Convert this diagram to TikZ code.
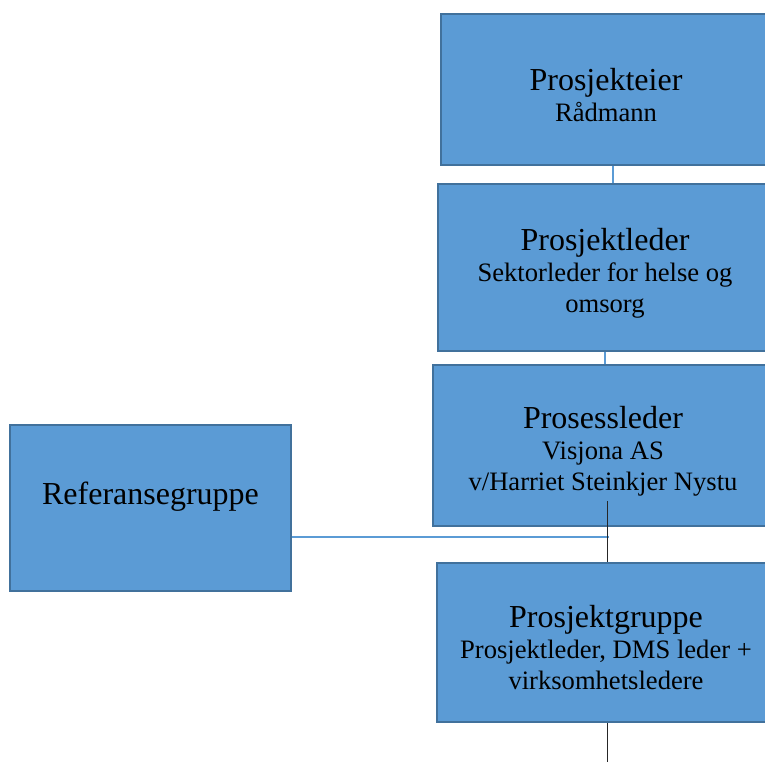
\documentclass[tikz,border=0pt]{standalone}
\usepackage{fontspec}
\setmainfont{Liberation Serif}
\usepackage{xcolor}
\usepackage{tikz}
\usetikzlibrary{positioning}
\usetikzlibrary{calc}
\definecolor{boksfyll}{HTML}{5B9BD5}
\definecolor{bokskant}{HTML}{41719C}
\tikzstyle{boks}=[rectangle,draw=bokskant,fill=boksfyll,line width=2pt,align=center,inner sep=0pt,font=\fontsize{26.6}{31}\selectfont]
\tikzstyle{blaalinje} = [draw,boksfyll,line width=1.4pt]
\tikzstyle{svartlinje} = [draw,black!85,line width=1pt]
\newcommand{\tittel}[1]{{\fontsize{32}{31}\selectfont\rule{0pt}{33pt}#1}}

\begin{document}
\begin{tikzpicture}[x=1pt,y=-1pt]

 \path[use as bounding box] (0,0) rectangle (765,762);
 \clip (0,0) rectangle (765,762);

 %venstre boks
 \node[boks, minimum width=281pt, minimum height=166pt] (ref) at (150.5,508) {\tittel{Referansegruppe}\\ \strut};

 %hoyre kolonne
  \foreach \x/\y/\w/\h/\name/\label in {606/89.5/330/151/eier/{\tittel{Prosjekteier}\\Rådmann},
       605/267.5/334/167/leder/{\tittel{Prosjektleder}\\Sektorleder for helse og\\omsorg},
       603/445.5/340/161/prosess/{\tittel{Prosessleder}\\Visjona AS\\v/Harriet Steinkjer Nystu},
       606/642.5/338/159/gruppe/{\tittel{Prosjektgruppe}\\Prosjektleder, DMS leder +\\virksomhetsledere}}
          \node[boks, minimum width=\w pt, minimum height=\h pt] (\name) at (\x,\y) {\label};

 %linjer
 \coordinate (kryss) at ($(ref.east -| gruppe.north)+(3,29)$);
 \coordinate (start) at ($(gruppe.north)+(1,-61)$);
 \coordinate (bunn) at ($(gruppe.south)+(1,40)$);

 \path[blaalinje] ([xshift=7pt]eier.south) -- ([xshift=7pt]eier.south |- leder.north);
 \path[blaalinje] (leder.south) -- (leder.south |- prosess.north);
 \path[blaalinje] (ref.east |- kryss) -- (kryss);

 \path[svartlinje] (start) -- (start |- gruppe.north);
 \path[svartlinje] (gruppe.south -| start) -- (bunn);

\end{tikzpicture}
\end{document}
